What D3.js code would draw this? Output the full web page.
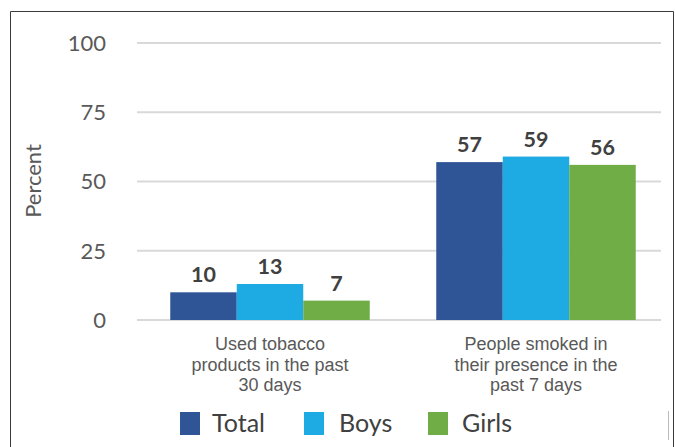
<!DOCTYPE html>
<html>
<head>
<meta charset="utf-8">
<script src="https://cdn.jsdelivr.net/npm/d3@7"></script>
<style>
  html, body { margin: 0; padding: 0; background: #fff; }
  svg { display: block; }
</style>
</head>
<body>
<svg id="chart" width="675" height="447"></svg>
<script>
// Chart data
const categories = [
  ["Used tobacco", "products in the past", "30 days"],
  ["People smoked in", "their presence in the", "past 7 days"]
];
const seriesNames = ["Total", "Boys", "Girls"];
const seriesColors = ["#2f5597", "#1eaae2", "#70ad47"];
const totalValues = [10, 57];
const boysValues = [13, 59];
const girlsValues = [7, 56];
const yTicks = [0, 25, 50, 75, 100];

const seriesValues = [totalValues, boysValues, girlsValues];

const svg = d3.select("#chart");

// Frame (open at the bottom)
svg.append("path")
  .attr("d", "M10.5,447 V11.5 H673.5 V447")
  .attr("fill", "none")
  .attr("stroke", "#3a3a3a")
  .attr("stroke-width", 1);

const y = d3.scaleLinear().domain([0, 100]).range([320, 43]);
const x0 = d3.scaleBand()
  .domain(d3.range(categories.length))
  .range([137, 669])
  .paddingInner(0.25)
  .paddingOuter(0.125);
const x1 = d3.scaleBand()
  .domain(d3.range(seriesNames.length))
  .range([0, x0.bandwidth()]);

// Gridlines
svg.append("g").selectAll("line")
  .data(yTicks)
  .join("line")
  .attr("x1", 137).attr("x2", 661)
  .attr("y1", d => y(d)).attr("y2", d => y(d))
  .attr("stroke", "#d9d9d9")
  .attr("stroke-width", 2);

// Y tick labels
svg.append("g").selectAll("text")
  .data(yTicks)
  .join("text")
  .attr("x", 106)
  .attr("y", d => y(d))
  .attr("dy", "0.36em")
  .attr("text-anchor", "end")
  .attr("font-family", "Lato, 'Open Sans', sans-serif")
  .attr("font-size", 22)
  .attr("fill", "#595959")
  .text(d => d);

// Y title
svg.append("text")
  .attr("transform", "translate(41,181) rotate(-90)")
  .attr("text-anchor", "middle")
  .attr("font-family", "Lato, 'Open Sans', sans-serif")
  .attr("font-size", 22)
  .attr("fill", "#595959")
  .text("Percent");

// Bars
const groups = svg.append("g").selectAll("g")
  .data(categories.map((c, i) => i))
  .join("g")
  .attr("transform", i => `translate(${x0(i)},0)`);

groups.selectAll("rect")
  .data(i => seriesValues.map((vals, s) => ({ s, v: vals[i] })))
  .join("rect")
  .attr("x", d => x1(d.s))
  .attr("y", d => y(d.v))
  .attr("width", x1.bandwidth())
  .attr("height", d => y(0) - y(d.v))
  .attr("fill", d => seriesColors[d.s]);

// Value labels
groups.selectAll("text")
  .data(i => seriesValues.map((vals, s) => ({ s, v: vals[i] })))
  .join("text")
  .attr("x", d => x1(d.s) + x1.bandwidth() / 2)
  .attr("y", d => y(d.v) - 10)
  .attr("text-anchor", "middle")
  .attr("font-family", "Lato, 'Open Sans', sans-serif")
  .attr("font-weight", "bold")
  .attr("font-size", 21.5)
  .attr("fill", "#404040")
  .text(d => d.v);

// Category labels
const catText = svg.append("g").selectAll("text")
  .data(categories)
  .join("text")
  .attr("text-anchor", "middle")
  .attr("font-family", "'Liberation Sans', Arial, sans-serif")
  .attr("font-size", 18)
  .attr("fill", "#595959");
catText.each(function(lines, i) {
  const cx = x0(i) + x0.bandwidth() / 2;
  d3.select(this).selectAll("tspan")
    .data(lines)
    .join("tspan")
    .attr("x", cx)
    .attr("y", (d, k) => 350 + k * 20.5)
    .text(d => d);
});

// Legend
const legendItems = [
  { x: 180, tx: 212 },
  { x: 304, tx: 339 },
  { x: 428, tx: 462 }
];
const legend = svg.append("g").selectAll("g")
  .data(seriesNames)
  .join("g");
legend.append("rect")
  .attr("x", (d, i) => legendItems[i].x)
  .attr("y", 412)
  .attr("width", 20)
  .attr("height", 23)
  .attr("fill", (d, i) => seriesColors[i]);
legend.append("text")
  .attr("x", (d, i) => legendItems[i].tx)
  .attr("y", 432)
  .attr("font-family", "Lato, 'Open Sans', sans-serif")
  .attr("font-size", 25)
  .attr("fill", "#404040")
  .text(d => d);

// Small divider stub at the lower right
svg.append("line")
  .attr("x1", 668.5).attr("x2", 668.5)
  .attr("y1", 411).attr("y2", 440)
  .attr("stroke", "#bbbbbb")
  .attr("stroke-width", 1);
</script>
</body>
</html>
